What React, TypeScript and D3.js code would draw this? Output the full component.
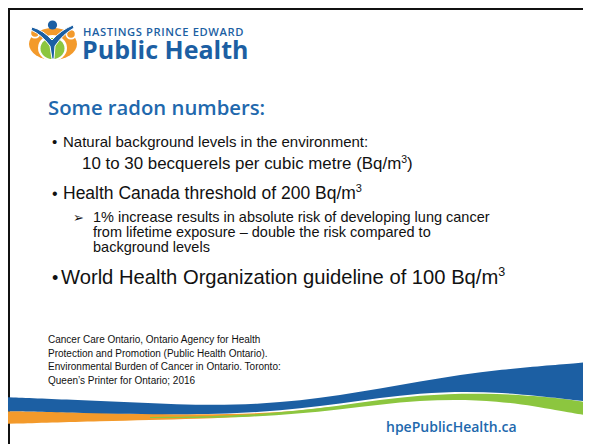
import React from 'react';
import * as d3 from 'd3';

// slide text
const logoSmall = 'HASTINGS PRINCE EDWARD';
const logoBig = 'Public Health';
const title = 'Some radon numbers:';
const bulletLines = [
  { text: 'Natural background levels in the environment:', sup: '', bullet: true },
  { text: '10 to 30 becquerels per cubic metre (Bq/m', sup: '3', tail: ')', bullet: false },
  { text: 'Health Canada threshold of 200 Bq/m', sup: '3', bullet: true },
];
const subLines = [
  '1% increase results in absolute risk of developing lung cancer',
  'from lifetime exposure \u2013 double the risk compared to',
  'background levels',
];
const lastBullet = 'World Health Organization guideline of 100 Bq/m';
const citation = [
  'Cancer Care Ontario, Ontario Agency for Health',
  'Protection and Promotion (Public Health Ontario).',
  'Environmental Burden of Cancer in Ontario. Toronto:',
  'Queen\u2019s Printer for Ontario; 2016',
];
const site = 'hpePublicHealth.ca';

// swoosh bands at the bottom (x, top, bottom)
const blueX = [0, 80, 180, 260, 340, 420, 500, 591];
const blueTop = [397, 400, 405, 405, 396, 381, 369, 362];
const blueBot = [411, 413, 415, 413, 404, 392, 391, 402];
const orangeX = [0, 100, 200, 280, 330];
const orangeTop = [411, 413, 415, 413, 407];
const orangeBot = [424, 421, 419, 415, 408];
const greenX = [150, 250, 340, 420, 500, 560, 591];
const greenTop = [417, 416, 406, 394, 393, 398, 403];
const greenBot = [418, 418, 410, 399, 400, 411, 416];

const BLUE = '#1c5fa3';
const TEXT_BLUE = '#2168ad';
const ORANGE = '#f39a2b';
const GREEN = '#8cc63f';
const SANS = '"Liberation Sans", Arial, sans-serif';
const OPEN = '"Open Sans", sans-serif';

function band(xs: number[], top: number[], bot: number[]) {
  const pts = xs.map((x, i) => ({ x, y0: top[i], y1: bot[i] }));
  return d3.area<any>()
    .x(d => d.x)
    .y0(d => d.y0)
    .y1(d => d.y1)
    .curve(d3.curveBasis)(pts) || '';
}

export default function App() {
  const W = 583;
  const H = 436;

  return (
    <svg width={W} height={H} style={{ display: 'block', background: '#fff' }}>
      <g transform="translate(-8,-8)">
        {/* frame */}
        <line x1={9} y1={8} x2={9} y2={444} stroke="#111" strokeWidth={2} />
        <line x1={8} y1={9} x2={591} y2={9} stroke="#111" strokeWidth={2} />

        {/* logo mark */}
        <g>
          <ellipse cx={53} cy={44} rx={24} ry={16} fill={ORANGE} />
          <ellipse cx={52.5} cy={48} rx={14.5} ry={13} fill="#fff" />
          <ellipse cx={52.5} cy={48.5} rx={12} ry={10.5} fill={GREEN} />
          <circle cx={35} cy={33} r={5.5} fill="#fff" />
          <circle cx={35} cy={33} r={3.8} fill={ORANGE} />
          <circle cx={71} cy={34} r={5.5} fill="#fff" />
          <circle cx={71} cy={34} r={3.8} fill={ORANGE} />
          <path d="M32,27 Q43,30 52,40 Q61,30 73,25 L74,28 Q63,34 55,46 L54,59 L52,59 L50,46 Q42,35 31,30 Z"
            fill={BLUE} stroke="#fff" strokeWidth={1} />
          <circle cx={52.5} cy={25} r={4.6} fill={BLUE} />
        </g>
        <text x={83} y={35.5} fontFamily={OPEN} fontWeight={600} fontSize={11.2} letterSpacing={0.6} fill={BLUE}>{logoSmall}</text>
        <text x={82} y={59} fontFamily={OPEN} fontWeight={700} fontSize={25} fill={BLUE}>{logoBig}</text>

        {/* title */}
        <text x={48} y={115} fontFamily={OPEN} fontWeight={600} fontSize={20.3} fill={TEXT_BLUE}>{title}</text>

        {/* bullets */}
        <g fontFamily={SANS} fill="#111">
          <text x={52} y={147} fontSize={15}>{'\u2022'}</text>
          <text x={63} y={147} fontSize={15}>{bulletLines[0].text}</text>
          <text x={82} y={169} fontSize={16.9}>
            {bulletLines[1].text}
            <tspan fontSize={10.5} dy={-6.5}>{bulletLines[1].sup}</tspan>
            <tspan dy={6.5}>{bulletLines[1].tail}</tspan>
          </text>
          <text x={52} y={199} fontSize={16}>{'\u2022'}</text>
          <text x={63} y={199} fontSize={17.5}>
            {bulletLines[2].text}
            <tspan fontSize={11} dy={-7}>{bulletLines[2].sup}</tspan>
          </text>

          <text x={73} y={222} fontSize={13} fontFamily='"DejaVu Sans", sans-serif'>{'\u27A2'}</text>
          {subLines.map((s, i) => (
            <text key={i} x={93} y={222 + i * 15} fontSize={14.5}>{s}</text>
          ))}

          <text x={52} y={284} fontSize={18}>{'\u2022'}</text>
          <text x={61} y={284} fontSize={20.2}>
            {lastBullet}
            <tspan fontSize={12.5} dy={-8}>3</tspan>
          </text>

          {citation.map((c, i) => (
            <text key={i} x={48} y={343 + i * 13.5} fontSize={10}>{c}</text>
          ))}
        </g>

        {/* swoosh */}
        <path d={band(orangeX, orangeTop, orangeBot)} fill={ORANGE} />
        <path d={band(greenX, greenTop, greenBot)} fill={GREEN} />
        <path d={band(blueX, blueTop, blueBot)} fill={BLUE} />

        <text x={386} y={432} fontFamily={OPEN} fontWeight={600} fontSize={14} fill={TEXT_BLUE}>{site}</text>
      </g>
    </svg>
  );
}
